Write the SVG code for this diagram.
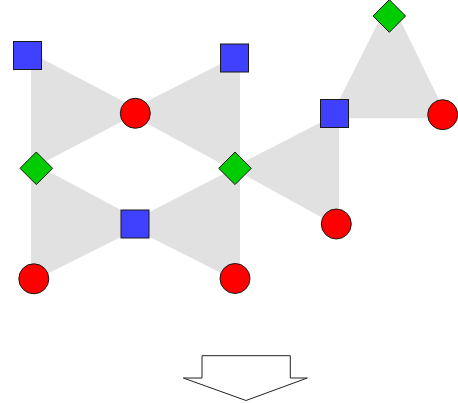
<svg xmlns="http://www.w3.org/2000/svg" width="458" height="403" viewBox="0 0 458 403">
<style>
.edge{fill:#e1e1e1;stroke:none}
.sq{fill:#4040ff;stroke:#1a1a1a;stroke-width:1}
.ci{fill:#ff0000;stroke:#1a1a1a;stroke-width:1}
.di{fill:#00cc00;stroke:#1a1a1a;stroke-width:1}
.arrow{fill:#ffffff;stroke:#222222;stroke-width:1}
</style>
<rect width="458" height="403" fill="#ffffff"/>
<g id="connectors">
<polygon class="edge" points="31,53 31,169 142,111"/>
<polygon class="edge" points="240,54 240,174 126,112"/>
<polygon class="edge" points="31,162 31,282 147,224"/>
<polygon class="edge" points="240,165.5 240,282.5 125,224.5"/>
<polygon class="edge" points="232,168 339,113 339,227"/>
<polygon class="edge" points="390,-1 330,118.3 448,118.3"/>
</g>
<g id="n_sq1"><rect class="sq" x="13.5" y="41.5" width="28" height="28"/></g>
<g id="n_sq2"><rect class="sq" x="220.5" y="44" width="28" height="28"/></g>
<g id="n_sq3"><rect class="sq" x="121" y="210" width="28" height="28"/></g>
<g id="n_sq4"><rect class="sq" x="320.5" y="99.5" width="28" height="28"/></g>
<g id="n_ci1"><circle class="ci" cx="135.3" cy="113.3" r="15"/></g>
<g id="n_ci2"><circle class="ci" cx="33.8" cy="278.8" r="15"/></g>
<g id="n_ci3"><circle class="ci" cx="235" cy="278.5" r="15"/></g>
<g id="n_ci4"><circle class="ci" cx="442.7" cy="114.7" r="15"/></g>
<g id="n_ci5"><circle class="ci" cx="336.3" cy="224" r="15"/></g>
<g id="n_di1"><polygon class="di" points="36.3,152 52.6,168.3 36.3,184.6 20,168.3"/></g>
<g id="n_di2"><polygon class="di" points="235,152 251.3,168.3 235,184.6 218.7,168.3"/></g>
<g id="n_di3"><polygon class="di" points="389.3,-0.3 405.6,16 389.3,32.3 373,16"/></g>
<g id="arrow"><polygon class="arrow" points="202,355.7 290.3,355.7 290.3,378 307.3,378 246,400.5 183.3,378 202,378"/></g>
</svg>
